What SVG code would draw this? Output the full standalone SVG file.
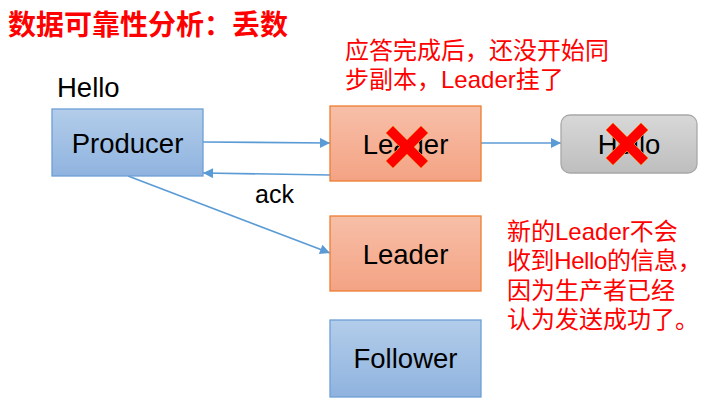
<svg xmlns="http://www.w3.org/2000/svg" width="703" height="401" viewBox="0 0 703 401">
<defs>
<linearGradient id="gBlue" x1="0" y1="0" x2="0" y2="1"><stop offset="0" stop-color="#b3cdea"/><stop offset="1" stop-color="#8fb3df"/></linearGradient>
<linearGradient id="gOrange" x1="0" y1="0" x2="0" y2="1"><stop offset="0" stop-color="#f7bfa8"/><stop offset="1" stop-color="#f4a384"/></linearGradient>
<linearGradient id="gGray" x1="0" y1="0" x2="0" y2="1"><stop offset="0" stop-color="#d8d8d8"/><stop offset="1" stop-color="#bebebe"/></linearGradient>
<marker id="arr" viewBox="0 0 10 10" refX="10" refY="5" markerWidth="12" markerHeight="10" markerUnits="userSpaceOnUse" orient="auto"><path d="M0,0 L10,5 L0,10 z" fill="#5b9bd5"/></marker>
<polygon id="cross" points="-14,-21 0,-7 14,-21 21,-14 7,0 21,14 14,21 0,7 -14,21 -21,14 -7,0 -21,-14" fill="#ff0000" stroke="#f07020" stroke-width="1"/>
</defs>
<style>
.lbl{font-family:"Liberation Sans",Arial,sans-serif;font-size:27.5px;fill:#000;}
.red{font-family:"Liberation Sans","Noto Sans CJK SC",sans-serif;font-size:24px;fill:#ff0000;}
.title{font-family:"Liberation Sans","Noto Sans CJK SC",sans-serif;font-size:28px;font-weight:bold;fill:#ff0000;}
.blue{fill:url(#gBlue);stroke:#6d9fd6;stroke-width:1.3;}
.orange{fill:url(#gOrange);stroke:#ed7d31;stroke-width:1.3;}
.gray{fill:url(#gGray);stroke:#a8a8a8;stroke-width:1.3;}
.conn{stroke:#5b9bd5;stroke-width:1.6;fill:none;marker-end:url(#arr);}
</style>
<rect width="703" height="401" fill="#fff"/>
<text class="title" x="8" y="35">数据可靠性分析：丢数</text>
<text class="red" x="345" y="59">应答完成后，还没开始同</text>
<text class="red" x="345" y="88">步副本，Leader挂了</text>
<text class="lbl" x="57" y="97">Hello</text>
<g id="connectors">
<line class="conn" x1="203" y1="142" x2="330" y2="143"/>
<line class="conn" x1="330" y1="175" x2="203" y2="173"/>
<line class="conn" x1="128" y1="176" x2="330" y2="253"/>
<line class="conn" x1="481" y1="143" x2="561" y2="143"/>
<text class="lbl" x="255" y="203" style="font-size:25px">ack</text>
</g>
<g id="producer">
<rect class="blue" x="52" y="109" width="151" height="67"/>
<text class="lbl" x="127.5" y="153" text-anchor="middle">Producer</text>
</g>
<g id="leader1">
<rect class="orange" x="330" y="106" width="151" height="75"/>
<text class="lbl" x="405.5" y="154" text-anchor="middle">Leader</text>
<use href="#cross" x="407" y="147"/>
</g>
<g id="hello">
<rect class="gray" x="561" y="115" width="136" height="58" rx="9"/>
<text class="lbl" x="629" y="154" text-anchor="middle">Hello</text>
<use href="#cross" x="627" y="144"/>
</g>
<g id="leader2">
<rect class="orange" x="330" y="216" width="151" height="75"/>
<text class="lbl" x="405.5" y="264" text-anchor="middle">Leader</text>
</g>
<g id="follower">
<rect class="blue" x="330" y="320" width="151" height="77"/>
<text class="lbl" x="405.5" y="368" text-anchor="middle">Follower</text>
</g>
<g id="note">
<text class="red" x="507" y="240">新的Leader不会</text>
<text class="red" x="507" y="269" letter-spacing="-0.4">收到Hello的信息，</text>
<text class="red" x="507" y="299">因为生产者已经</text>
<text class="red" x="507" y="328">认为发送成功了。</text>
</g>
</svg>
